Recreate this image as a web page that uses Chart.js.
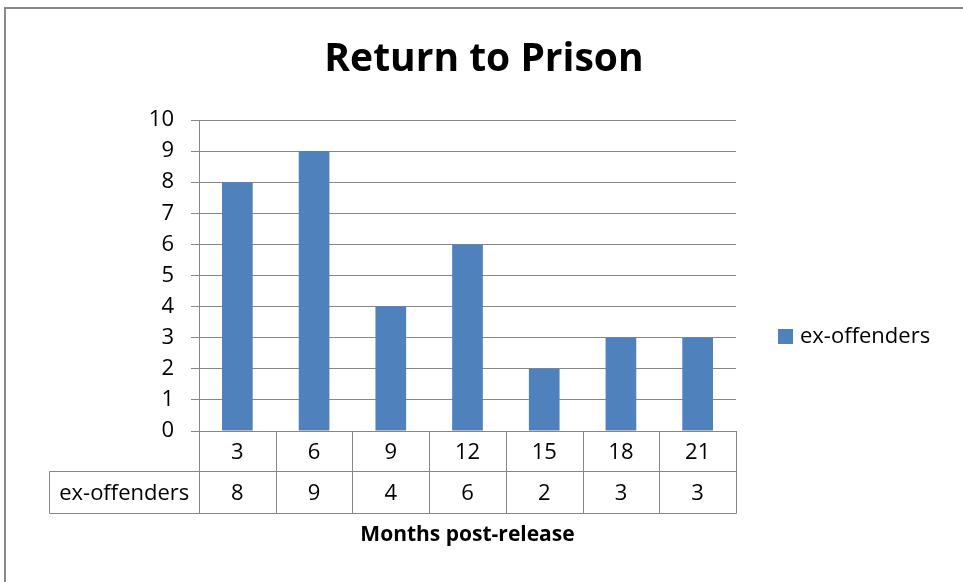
<!DOCTYPE html>
<html>
<head>
<meta charset="utf-8">
<style>
  html, body { margin: 0; padding: 0; background: #fff; }
  #wrap { width: 963px; height: 582px; }
</style>
<script src="https://cdn.jsdelivr.net/npm/chart.js@4/dist/chart.umd.min.js"></script>
</head>
<body>
<div id="wrap"><canvas id="chart" width="963" height="582"></canvas></div>
<script>
// Data
const months = ['3', '6', '9', '12', '15', '18', '21'];
const exOffenders = [8, 9, 4, 6, 2, 3, 3];
const yTicks = [0, 1, 2, 3, 4, 5, 6, 7, 8, 9, 10];
const chartTitle = 'Return to Prison';
const xTitle = 'Months post-release';

const FONT = "'Open Sans', sans-serif";
const GRID = '#878787';
const BAR = '#4F81BD';

// draws the frame, title, data table, axis title and legend
const tablePlugin = {
    id: 'dataTable',
    afterDraw(chart) {
        const ctx = chart.ctx;
        const area = chart.chartArea;
        const x = chart.scales.x;
        const ds = chart.data.datasets[0];
        const colW = (area.right - area.left) / chart.data.labels.length;
        const row1 = Math.round(area.bottom) + 40.5;
        const row2 = Math.round(area.bottom) + 82.5;
        const labelLeft = 49.5;

        ctx.save();
        // outer frame
        ctx.strokeStyle = '#888';
        ctx.lineWidth = 2;
        ctx.beginPath();
        ctx.moveTo(5, 600);
        ctx.lineTo(5, 8);
        ctx.lineTo(970, 8);
        ctx.stroke();

        // title
        ctx.fillStyle = '#000';
        ctx.font = 'bold 39px ' + FONT;
        ctx.textAlign = 'center';
        ctx.textBaseline = 'alphabetic';
        ctx.fillText(chartTitle, 484, 71);

        // table lines
        ctx.strokeStyle = GRID;
        ctx.lineWidth = 1;
        ctx.beginPath();
        for (let i = 0; i <= chart.data.labels.length; i++) {
            const px = Math.round(area.left + i * colW) + 0.5;
            ctx.moveTo(px, area.bottom);
            ctx.lineTo(px, row2);
        }
        ctx.moveTo(labelLeft, row1);
        ctx.lineTo(labelLeft, row2);
        ctx.moveTo(labelLeft, row1);
        ctx.lineTo(area.right + 0.5, row1);
        ctx.moveTo(labelLeft, row2);
        ctx.lineTo(area.right + 0.5, row2);
        ctx.stroke();

        // table text
        ctx.font = '22px ' + FONT;
        ctx.textBaseline = 'middle';
        chart.data.labels.forEach((lab, i) => {
            const cx = x.getPixelForValue(i);
            ctx.fillText(lab, cx, (area.bottom + row1) / 2 + 1);
            ctx.fillText(String(ds.data[i]), cx, (row1 + row2) / 2 + 1);
        });
        ctx.fillText(ds.label, (labelLeft + area.left) / 2, (row1 + row2) / 2 + 1);

        // axis title
        ctx.font = 'bold 21px ' + FONT;
        ctx.fillText(xTitle, (area.left + area.right) / 2, 535);

        // legend
        ctx.fillStyle = ds.backgroundColor;
        ctx.fillRect(778, 329, 15, 15);
        ctx.fillStyle = '#000';
        ctx.font = '22px ' + FONT;
        ctx.textAlign = 'left';
        ctx.fillText(ds.label, 800, 337);
        ctx.restore();
    }
};

new Chart(document.getElementById('chart'), {
    type: 'bar',
    data: {
        labels: months,
        datasets: [{
            label: 'ex-offenders',
            data: exOffenders,
            backgroundColor: BAR,
            borderWidth: 0,
            barPercentage: 0.4,
            categoryPercentage: 1.0
        }]
    },
    options: {
        responsive: false,
        animation: false,
        events: [],
        layout: {
            padding: { left: 0, right: 227, top: 120, bottom: 151 }
        },
        plugins: {
            legend: { display: false },
            tooltip: { enabled: false },
            title: { display: false }
        },
        scales: {
            x: {
                display: false
            },
            y: {
                min: 0,
                max: 10,
                afterFit(scale) { scale.width = 199; },
                afterBuildTicks(scale) {
                    scale.ticks = yTicks.map(v => ({ value: v }));
                },
                grid: {
                    color: GRID,
                    tickLength: 8
                },
                border: { color: GRID },
                ticks: {
                    color: '#000',
                    padding: 17,
                    font: { family: FONT, size: 22 }
                }
            }
        }
    },
    plugins: [tablePlugin]
});
</script>
</body>
</html>
